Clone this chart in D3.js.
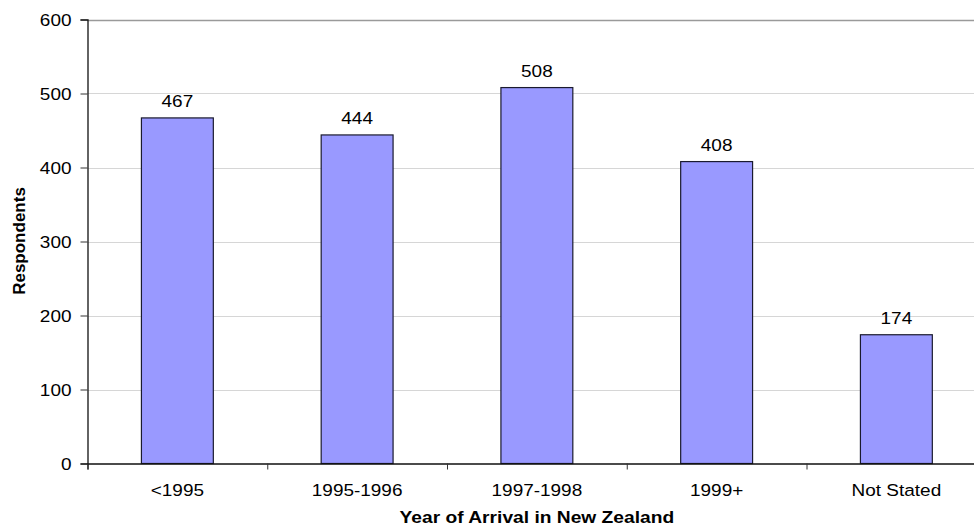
<!DOCTYPE html>
<html>
<head>
<meta charset="utf-8">
<script src="https://cdn.jsdelivr.net/npm/d3@7"></script>
<style>
  html, body { margin: 0; padding: 0; background: #fff; }
  svg { display: block; }
  text { font-family: "Liberation Sans", Arial, sans-serif; fill: #000; }
</style>
</head>
<body>
<svg id="chart" width="974" height="526"></svg>
<script>
// Respondents by year of arrival
const categories = ["<1995", "1995-1996", "1997-1998", "1999+", "Not Stated"];
const respondents = [467, 444, 508, 408, 174];
const yTicks = [0, 100, 200, 300, 400, 500, 600];
const xTitle = "Year of Arrival in New Zealand";
const yTitle = "Respondents";

const plotLeft = 87.5, plotTop = 19.5, plotBottom = 463.5;
const bandW = 179.75;
const plotRight = plotLeft + bandW * categories.length;   // plot runs past the window edge
const sx = 1.15;                                          // horizontal text stretch

const svg = d3.select("#chart");

const x = d3.scaleBand().domain(categories).range([plotLeft, plotRight]).padding(0);
const xEdge = d3.scaleLinear().domain([0, categories.length]).range([plotLeft, plotRight]);
const y = d3.scaleLinear().domain([0, 600]).range([plotBottom, plotTop]);

// gridlines
svg.append("g")
  .selectAll("line")
  .data(yTicks.filter(d => d > 0))
  .join("line")
  .attr("x1", plotLeft).attr("x2", plotRight)
  .attr("y1", d => Math.round(y(d)) + 0.5).attr("y2", d => Math.round(y(d)) + 0.5)
  .attr("stroke", d => d === 600 ? "#9a9a9a" : "#d6d6d6")
  .attr("stroke-width", d => d === 600 ? 1.5 : 1.2);

// bars
const barW = x.bandwidth() * 0.4;
svg.append("g")
  .selectAll("rect")
  .data(respondents)
  .join("rect")
  .attr("x", (d, i) => x(categories[i]) + (x.bandwidth() - barW) / 2)
  .attr("y", d => y(d))
  .attr("width", barW)
  .attr("height", d => y(0) - y(d))
  .attr("fill", "#9999ff")
  .attr("stroke", "#1a1a2e")
  .attr("stroke-width", 1.2);

// value labels
svg.append("g")
  .selectAll("text")
  .data(respondents)
  .join("text")
  .attr("transform", (d, i) => `translate(${x(categories[i]) + x.bandwidth() / 2},${y(d) - 10.5}) scale(${sx},1)`)
  .attr("text-anchor", "middle")
  .attr("font-size", 16.5)
  .text(d => d);

// y axis
const yAxis = svg.append("g")
  .attr("transform", `translate(${plotLeft},0)`)
  .call(d3.axisLeft(y).tickValues(yTicks).tickSize(7).tickPadding(0));
yAxis.select(".domain").attr("stroke", "#111").attr("stroke-width", 1.3);
yAxis.selectAll(".tick line").attr("stroke", "#333");
yAxis.selectAll(".tick text")
  .attr("x", -16 / sx)
  .attr("dy", "0.35em")
  .attr("transform", `scale(${sx},1)`)
  .attr("font-size", 16.5)
  .attr("font-family", null)
  .attr("fill", "#000");

// x axis: ticks at category boundaries
const xTicksG = svg.append("g")
  .attr("transform", `translate(0,${plotBottom})`)
  .call(d3.axisBottom(xEdge).tickValues(d3.range(categories.length + 1)).tickSize(6).tickFormat(""));
xTicksG.select(".domain").attr("stroke", "#111").attr("stroke-width", 1.3);
xTicksG.selectAll(".tick line").attr("stroke", "#333");

// x axis category labels
const xAxis = svg.append("g")
  .attr("transform", `translate(0,${plotBottom})`)
  .call(d3.axisBottom(x).tickSize(0));
xAxis.select(".domain").remove();
xAxis.selectAll(".tick text")
  .attr("y", 32.5)
  .attr("dy", 0)
  .attr("transform", `scale(${sx},1)`)
  .attr("font-size", 16.5)
  .attr("font-family", null)
  .attr("fill", "#000");

// axis titles
svg.append("text")
  .attr("transform", `translate(${(plotLeft + plotRight) / 2},522.5) scale(1.13,1)`)
  .attr("text-anchor", "middle")
  .attr("font-weight", "bold")
  .attr("font-size", 17)
  .text(xTitle);

svg.append("text")
  .attr("transform", `translate(25,241) rotate(-90)`)
  .attr("text-anchor", "middle")
  .attr("font-weight", "bold")
  .attr("font-size", 17)
  .text(yTitle);
</script>
</body>
</html>
